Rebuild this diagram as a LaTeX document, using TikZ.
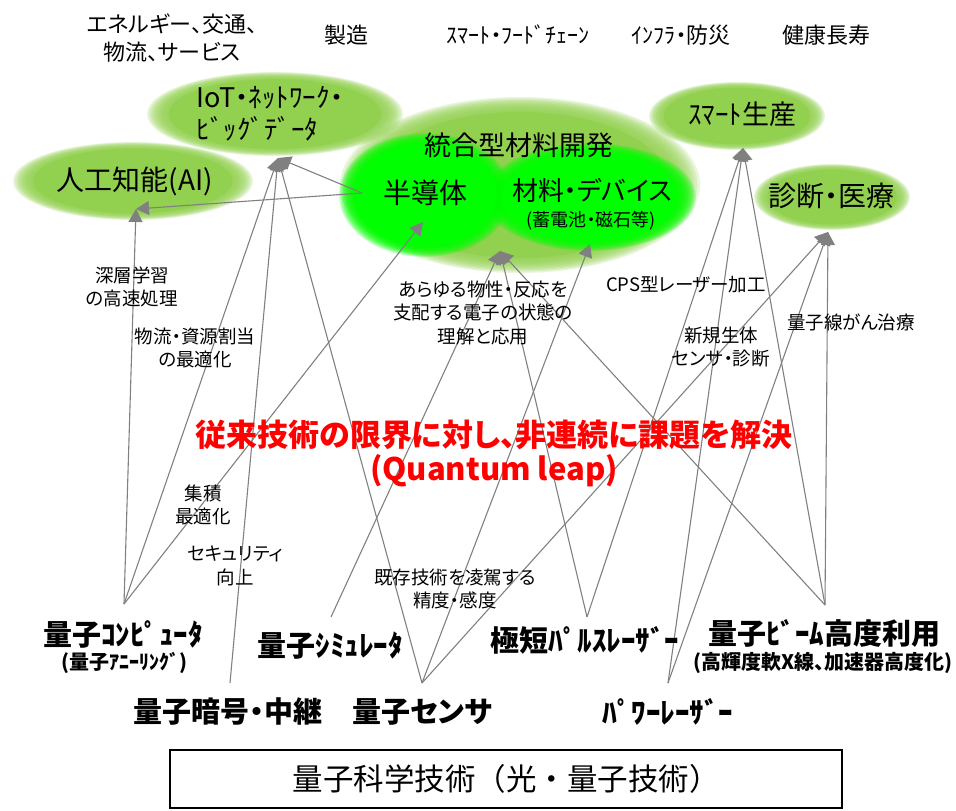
\documentclass[tikz,border=0pt]{standalone}
\usepackage{fontspec}
\setmainfont{Noto Sans CJK JP}[RawFeature=+palt]
\newfontfamily\boxfont{Noto Sans CJK JP}
\usetikzlibrary{arrows.meta}

\definecolor{leaf}{RGB}{146,208,80}
\definecolor{brightgreen}{RGB}{0,255,0}
\definecolor{linkgray}{RGB}{128,128,128}
\definecolor{leapred}{RGB}{255,0,0}

% soft edged ellipse: centre, x radius, y radius, colour
\newcommand{\softblob}[4]{%
  \foreach \s in {1.000,0.985,...,0.83}
    \fill[#4, opacity=0.2] #1 ellipse [x radius=\s*#2 pt, y radius=\s*#3 pt];
  \fill[#4] #1 ellipse [x radius=0.83*#2 pt, y radius=0.83*#3 pt];
}

\tikzset{
  link/.style={draw=linkgray, line width=1.1pt, -{Triangle[width=14pt,length=13pt]}},
  toptext/.style={align=center, inner sep=0.75pt, font=\fontsize{22}{28}\selectfont},
  blobtext/.style={align=left, inner sep=0.75pt, font=\fontsize{26}{32}\selectfont},
  why/.style={align=center, inner sep=0.75pt, font=\fontsize{18.5}{23.5}\selectfont},
  tech/.style={align=center, inner sep=0.75pt, font=\bfseries\fontsize{29}{32}\selectfont},
  techsub/.style={align=center, inner sep=0.75pt, font=\bfseries\fontsize{20}{23}\selectfont},
}

\begin{document}
\begin{tikzpicture}[x=1pt, y=-1pt]
\useasboundingbox (0,0) rectangle (956,811);

% application fields
\softblob{(133,181)}{120}{39}{leaf}
\softblob{(275,114)}{128}{42}{leaf}
\softblob{(737,116)}{88}{34}{leaf}
\softblob{(832,197)}{78}{33}{leaf}
\softblob{(520,185)}{180}{88}{leaf}
\softblob{(425,195)}{86}{62}{brightgreen}
\softblob{(590,197)}{106}{54}{brightgreen}

% top row
\node[toptext] (energy) at (172,38) {エネルギー、交通、\\物流、サービス};
\node[toptext] (maker)  at (346,35) {製造};
\node[toptext] (food)   at (518,35) {ｽﾏｰﾄ・ﾌｰﾄﾞﾁｪｰﾝ};
\node[toptext] (infra)  at (681,35) {ｲﾝﾌﾗ・防災};
\node[toptext] (health) at (826,35) {健康長寿};

% fields
\node[blobtext, font=\fontsize{27}{32}\selectfont] (iot) at (270,114) {IoT・ﾈｯﾄﾜｰｸ・\\ﾋﾞｯｸﾞﾃﾞｰﾀ};
\node[blobtext, font=\fontsize{28}{32}\selectfont] (ai) at (135,181) {人工知能(AI)};
\node[blobtext, font=\fontsize{27}{32}\selectfont] (matdev) at (519,145) {統合型材料開発};
\node[blobtext, font=\fontsize{28}{32}\selectfont] (semi) at (425,193) {半導体};
\node[blobtext] (mat)   at (592,190) {材料・デバイス};
\node[inner sep=0.75pt, font=\fontsize{18}{22}\selectfont] (matsub) at (591,221) {(蓄電池・磁石等)};
\node[blobtext, font=\fontsize{27}{32}\selectfont] (smart) at (742,114) {ｽﾏｰﾄ生産};
\node[blobtext, font=\fontsize{28}{32}\selectfont] (diag) at (831,196) {診断・医療};

% arrow tips and line ends
\coordinate (aiIn)    at (136,209);
\coordinate (iotIn)   at (278,158);
\coordinate (semiIn)  at (423,222);
\coordinate (semiOut) at (362,193);
\coordinate (matIn)   at (500,251);
\coordinate (devIn)   at (590,244);
\coordinate (smartIn) at (743,148);
\coordinate (diagIn)  at (828,232);
\coordinate (qcTop)    at (124,604);
\coordinate (cryTop)   at (230,683);
\coordinate (simTop)   at (331,617);
\coordinate (senTop)   at (422,683);
\coordinate (pulseTop) at (587,617);
\coordinate (powTop)   at (668,683);
\coordinate (beamTop)  at (825,605);

% connectors
\draw[link] (semiOut) -- (aiIn);
\draw[link] (semiOut) -- (iotIn);
\draw[link] (qcTop) -- (aiIn);
\draw[link] (qcTop) -- (iotIn);
\draw[link] (qcTop) -- (semiIn);
\draw[link] (cryTop) -- (iotIn);
\draw[link] (simTop) -- (matIn);
\draw[link] (senTop) -- (iotIn);
\draw[link] (senTop) -- (devIn);
\draw[link] (senTop) -- (diagIn);
\draw[link] (pulseTop) -- (matIn);
\draw[link] (pulseTop) -- (smartIn);
\draw[link] (powTop) -- (smartIn);
\draw[link] (powTop) -- (diagIn);
\draw[link] (beamTop) -- (matIn);
\draw[link] (beamTop) -- (smartIn);
\draw[link] (beamTop) -- (diagIn);

% reasons along the links
\node[why] (deep)     at (132,287) {深層学習\\の高速処理};
\node[why] (logi)     at (195,348) {物流・資源割当\\の最適化};
\node[why] (electron) at (483,313) {あらゆる物性・反応を\\支配する電子の状態の\\理解と応用};
\node[why] (cps)      at (686,285) {CPS型レーザー加工};
\node[why] (bio)      at (721,347) {新規生体\\センサ・診断};
\node[why] (cancer)   at (851,322) {量子線がん治療};
\node[why] (integ)    at (203,505) {集積\\最適化};
\node[why] (secure)   at (235,566) {セキュリティ\\向上};
\node[why] (exceed)   at (455,589) {既存技術を凌駕する\\精度・感度};

\node[align=center, inner sep=0.75pt, text=leapred, font=\bfseries\fontsize{31}{34}\selectfont] (leap) at (494,453)
  {従来技術の限界に対し、非連続に課題を解決\\(Quantum leap)};

% technologies
\node[tech] (qc)     at (123,634) {量子ｺﾝﾋﾟｭｰﾀ};
\node[techsub] (qcsub) at (124,663) {(量子ｱﾆｰﾘﾝｸﾞ)};
\node[tech] (crypto) at (228,712) {量子暗号・中継};
\node[tech] (sim)    at (330,646) {量子ｼﾐｭﾚｰﾀ};
\node[tech] (sensor) at (422,712) {量子センサ};
\node[tech] (pulse)  at (585,640) {極短ﾊﾟﾙｽﾚｰｻﾞｰ};
\node[tech] (power)  at (668,712) {ﾊﾟﾜｰﾚｰｻﾞｰ};
\node[tech] (beam)   at (824,633) {量子ﾋﾞｰﾑ高度利用};
\node[techsub] (beamsub) at (823,663) {(高輝度軟X線、加速器高度化)};

% base
\node[draw, line width=1.3pt, minimum width=672pt, minimum height=58pt, inner sep=0pt,
      font=\boxfont\fontsize{30.5}{33}\selectfont] (base) at (506,779) {量子科学技術（光・量子技術）};

\end{tikzpicture}
\end{document}
